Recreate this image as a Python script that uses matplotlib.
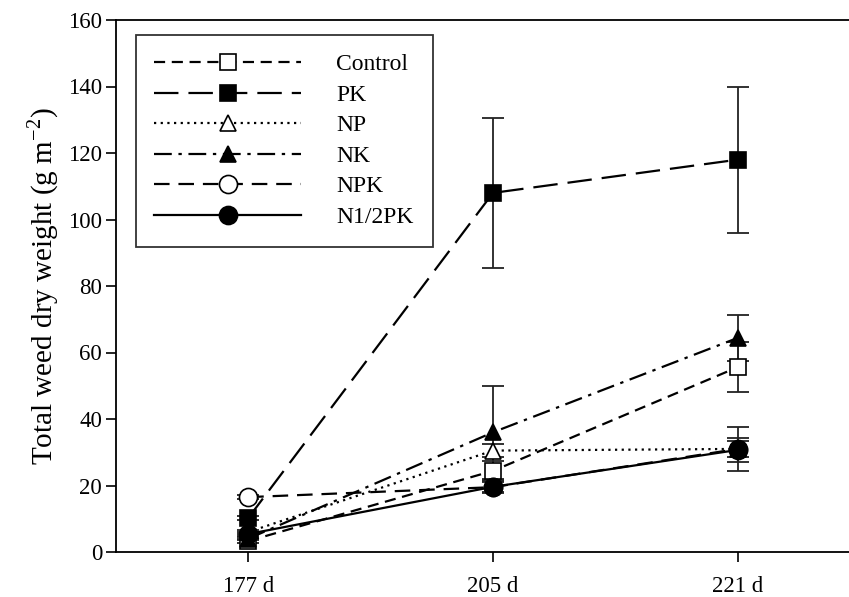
import matplotlib
matplotlib.use('Agg')
import matplotlib.pyplot as plt

plt.rcParams['font.family'] = ['Liberation Serif', 'DejaVu Serif']
plt.rcParams['mathtext.fontset'] = 'custom'
plt.rcParams['mathtext.rm'] = 'Liberation Serif'

days = ['177 d', '205 d', '221 d']

control = [3.3, 24.4, 55.6]
control_err = [0.5, 3.0, 7.5]
pk = [10.2, 108, 118]
pk_err = [0.5, 22.5, 22]
np_ = [6, 30.5, 31]
np_err = [0.5, 2.0, 2.5]
nk = [4, 36, 64.4]
nk_err = [0.5, 14, 7]
npk = [16.5, 19.5, 31]
npk_err = [0.5, 1.5, 6.7]
n_half_pk = [5.4, 19.6, 30.7]
n_half_pk_err = [0.5, 2.0, 3.5]

series = [
    ('Control', control, control_err, 's', 'white', (0, (5, 3))),
    ('PK', pk, pk_err, 's', 'black', (0, (11, 4.5))),
    ('NP', np_, np_err, '^', 'white', (0, (1, 2))),
    ('NK', nk, nk_err, '^', 'black', (0, (8, 3, 1.5, 3))),
    ('NPK', npk, npk_err, 'o', 'white', (0, (7, 4))),
    ('N1/2PK', n_half_pk, n_half_pk_err, 'o', 'black', '-'),
]

fig = plt.figure(figsize=(8.49, 5.97), dpi=100)
ax = fig.add_axes([116 / 849, 45 / 597, (870 - 116) / 849, 532 / 597])

x = list(range(len(days)))
for name, vals, err, mk, fc, ls in series:
    ax.errorbar(x, vals, yerr=err, fmt='none', ecolor='#222222', elinewidth=1.3,
                capsize=8, capthick=1.3, zorder=2)
    ms = 13 if mk == 'o' else 12
    ax.plot(x, vals, color='black', linestyle=ls, linewidth=1.6, marker=mk,
            markersize=ms, markerfacecolor=fc, markeredgecolor='black',
            markeredgewidth=1.2, label=name, zorder=3)

ax.set_xlim(-0.54, 2.54)
ax.set_ylim(0, 160)
ax.set_xticks(x)
ax.set_xticklabels(days)
ax.set_yticks(range(0, 161, 20))
ax.tick_params(axis='both', direction='out', length=7, width=1.2, labelsize=16.5,
               colors='black')
ax.tick_params(axis='x', pad=10)
ax.tick_params(axis='y', pad=3)
for sp in ax.spines.values():
    sp.set_linewidth(1.3)

ax.set_ylabel('Total weed dry weight (g m$^{-2}$)', fontsize=21, labelpad=5)

leg = ax.legend(loc='upper left', bbox_to_anchor=(0.026, 0.972), fontsize=17,
                frameon=True, fancybox=False, edgecolor='black', handlelength=6.2,
                handletextpad=1.5, labelspacing=0.38, borderpad=0.8,
                borderaxespad=0)
leg.get_frame().set_linewidth(1.3)

fig.savefig('out.png', dpi=100)
